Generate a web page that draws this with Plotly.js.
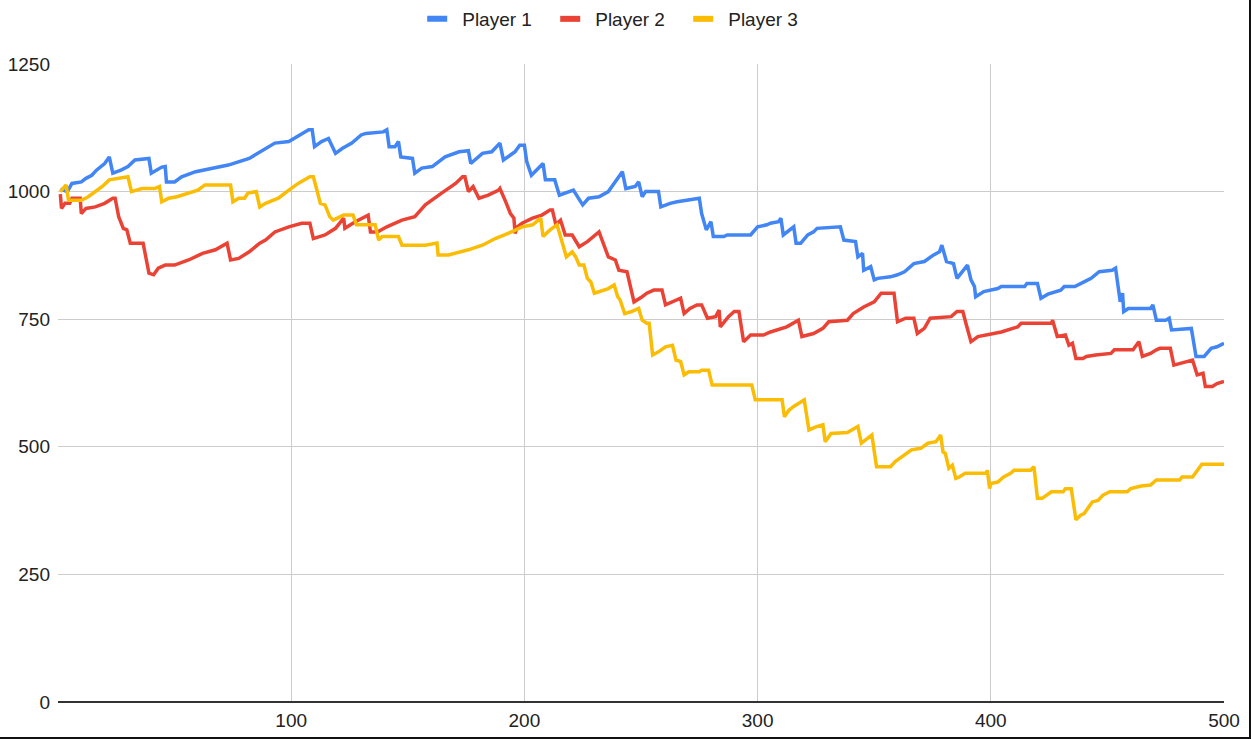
<!DOCTYPE html>
<html>
<head>
<meta charset="utf-8">
<script src="https://cdn.plot.ly/plotly-3.0.1.min.js"></script>
<style>
  html, body { margin: 0; padding: 0; background: #fff; }
  #wrap { position: relative; width: 1251px; height: 739px; overflow: hidden; }
  #chart { width: 1251px; height: 739px; }
  .bR { position: absolute; right: 0; top: 0; width: 2px; height: 739px; background: #111; }
  .bB { position: absolute; left: 0; bottom: 0; width: 1251px; height: 2px; background: #111; }
</style>
</head>
<body>
<div id="wrap">
  <div id="chart"></div>
  <div class="bR"></div>
  <div class="bB"></div>
</div>
<script>
// Series names and axis ticks
const seriesNames = ["Player 1", "Player 2", "Player 3"];
const xTicks = [100, 200, 300, 400, 500];
const yTicks = [0, 250, 500, 750, 1000, 1250];

// Player 1 (vertices)
const p1x = [1,4,6,10,12,14.5,16.5,20,22,23.5,27,30,33,39,40,44.5,46,46.5,50,53,59,67,73,82,86.5,93,99,103,107.5,109,110,113,116,119,122,126,130,132,139.5,141,142,144.5,146,147,152,153,156,160.5,166,172,176,177,182,186,189.5,191,196,198,200,201,203,208,209,213,215,221,225,227.5,232,236,242,243.5,247.5,249,250.5,252,257.5,258.5,262.5,265.5,272.5,275,276,278,280,281,285.5,287,297,300,304,305.5,309,310,311,313.5,315.5,316.5,318.5,321.5,324,325.5,335.5,337,342,343,345,345.5,348.5,350,351.5,357,360,363,367,371.5,375.5,378,379,381,384,385.5,390,391.5,393,393.5,397,403,404.5,414.5,415.5,420,421.5,424.5,430,431.5,436,440,443,446.5,452,453.5,455,455.5,456.5,457,459,468.5,469.5,471,475,476.5,477.5,485,486,488,491.5,494.5,497,500];
const p1y = [1005,1000,1016,1019,1026,1032,1042,1055,1068,1036,1042,1049,1062,1065,1036,1048,1049,1019,1019,1029,1039,1046,1052,1065,1078,1095,1098,1108,1121,1121,1088,1098,1104,1075,1085,1095,1111,1114,1117,1121,1088,1088,1098,1068,1065,1036,1046,1049,1068,1078,1080,1055,1075,1078,1095,1062,1078,1091,1091,1059,1032,1055,1023,1023,993,1003,974,987,990,1000,1039,1006,1010,1019,990,1000,1000,970,977,980,984,987,957,925,941,912,912,915,915,931,935,938,941,948,915,925,931,899,899,915,921,928,931,905,902,872,879,846,853,827,830,833,837,843,859,863,876,882,895,863,859,830,856,827,814,794,804,810,814,814,820,820,791,799,807,814,814,823,830,843,846,850,807,784,801,765,771,771,778,748,748,752,729,732,732,677,677,693,696,703];

// Player 2
const p2x = [1,1.5,3,5,6,9.5,10,12,16,20,23.5,24.5,26,28,29.5,31,36.5,39,41,43,46,50,56,62,67.5,72.5,74,77.5,82,86.5,89,93,99,104.5,108,109.5,114.5,119,122.5,123,127.5,130.5,133,134,137,141,147.5,153,157.5,164.5,170.5,173.5,174.5,176,178,180.5,184.5,189,189.5,192,194,195.5,196,197,199,203.5,207.5,211,212,213.5,215.5,217.5,220.5,223.5,227,232,234,236,239,240.5,244,247,250.5,252.5,255.5,259,260.5,263.5,267,268.5,271,274,276,278.5,282,283.5,284,287.5,290,292,294,297,302.5,305.5,308.5,312.5,317.5,319,324,328,330.5,338.5,341,345.5,350,353,358.5,360,363.5,367,368.5,371.5,374,383,385.5,388,389.5,391.5,394.5,398.5,404.5,411.5,413,426,426.5,428.5,432,433.5,435,436.5,439.5,441,445,451.5,453,461,463.5,465,468.5,471,472.5,477,478.5,486.5,488.5,491,492,495,497,500];
const p2y = [995,967,977,977,987,987,957,967,970,977,987,987,951,928,925,899,899,840,837,850,856,856,866,879,886,899,866,869,882,899,905,921,931,938,938,908,915,928,948,928,941,948,954,921,921,931,944,951,974,997,1016,1029,1029,1000,1010,987,993,1003,1006,980,957,948,918,931,938,948,954,964,964,935,944,915,915,892,902,921,895,872,866,846,843,784,794,801,807,807,778,784,791,761,771,778,778,752,755,768,735,755,765,765,706,719,719,725,729,735,748,716,722,732,745,748,761,774,784,801,801,745,752,752,722,732,752,755,765,765,739,706,716,719,725,735,742,742,748,716,719,699,703,673,673,677,680,683,690,690,706,677,683,690,693,693,660,670,641,644,618,618,624,628];

// Player 3
const p3x = [1,3.5,4.5,10,13,16,19,22,26.5,29,30,31.5,36,41.5,43.5,44.5,47.5,51,56,60,63,74,75,77.5,80,81.5,85,86.5,89,94.5,99,103,108,109.5,111,112.5,114.5,116.5,118,122.5,126.5,128,136,137.5,139,146,147.5,157.5,162.5,163,167.5,172.5,176,182,187.5,193,199,203.5,207,208,211,214,216,218,220.5,222,223.5,225.5,227,228.5,230,232,236,238.5,240,241,243,246,249,250.5,252.5,253.5,255,257.5,260.5,263.5,265,267,268.5,270.5,275,276,279,280.5,297.5,299,310.5,311.5,313.5,315.5,317.5,320,322,325,328,329,331.5,338.5,343,344.5,347,349,351,357,359,363,366,370,373,376.5,378.5,379.5,380.5,382,383.5,385,386.5,389,398,398.5,399.5,400,403,405.5,408.5,410,417,418.5,420,422,426,431,432,434.5,436.5,438.5,440,443.5,446,448,451,458.5,460,464.5,468.5,471,481,482,486.5,490.5,500];
const p3y = [1000,1013,983,983,990,1000,1010,1023,1026,1029,1029,1000,1006,1006,1010,980,987,990,997,1003,1013,1013,980,987,987,997,1000,970,977,987,1003,1016,1029,1029,1003,977,974,951,944,954,954,935,935,905,912,912,895,895,899,876,876,882,886,895,908,918,931,935,948,912,925,935,905,872,882,872,856,856,830,823,801,804,810,817,794,788,761,765,771,748,742,742,680,686,696,699,670,667,641,647,647,650,650,621,621,592,592,559,572,579,585,592,533,539,543,510,526,528,540,507,516,523,461,461,471,484,494,497,507,510,523,490,487,458,464,438,441,448,448,454,418,428,431,441,448,454,454,461,399,399,412,412,418,418,357,366,369,392,395,405,412,412,418,423,425,435,435,441,441,466,466];

const colors = ["#4285F4", "#EA4335", "#FBBC04"];
const xs = [p1x, p2x, p3x];
const ys = [p1y, p2y, p3y];

const traces = [];
for (let i = 0; i < 3; i++) {
  traces.push({
    type: "scatter", mode: "lines", x: xs[i], y: ys[i],
    name: seriesNames[i], showlegend: false,
    line: { color: colors[i], width: 3.5, shape: "linear" },
    hoverinfo: "skip"
  });
}
for (let i = 0; i < 3; i++) {
  traces.push({
    type: "scatter", mode: "lines", x: [null], y: [null],
    name: seriesNames[i], showlegend: true,
    line: { color: colors[i], width: 6, dash: "20px,40px" }
  });
}

const layout = {
  width: 1251, height: 739,
  margin: { l: 58, r: 27, t: 64, b: 37, pad: 0 },
  paper_bgcolor: "#ffffff", plot_bgcolor: "#ffffff",
  font: { family: "Liberation Sans, Arial, sans-serif", size: 19, color: "#222222" },
  showlegend: true,
  legend: {
    orientation: "h", xref: "container", yref: "container",
    x: 0.3375, xanchor: "left", y: 1, yanchor: "top",
    entrywidth: 88, entrywidthmode: "pixels",
    font: { size: 19, color: "#222222" }, itemwidth: 30,
    bgcolor: "rgba(0,0,0,0)"
  },
  xaxis: {
    range: [0, 500], tickvals: xTicks, ticktext: xTicks.map(String),
    showgrid: true, gridcolor: "#cccccc", gridwidth: 1,
    zeroline: false, showline: false, ticks: "", ticklabelstandoff: 5,
    tickfont: { size: 19, color: "#222222" }, fixedrange: true
  },
  yaxis: {
    range: [0, 1250], tickvals: yTicks, ticktext: yTicks.map(String),
    showgrid: true, gridcolor: "#cccccc", gridwidth: 1,
    zeroline: true, zerolinecolor: "#333333", zerolinewidth: 2,
    showline: false, ticks: "", ticklabelstandoff: 7,
    tickfont: { size: 19, color: "#222222" }, fixedrange: true
  }
};

Plotly.newPlot("chart", traces, layout, { staticPlot: true, displayModeBar: false });
</script>
</body>
</html>
